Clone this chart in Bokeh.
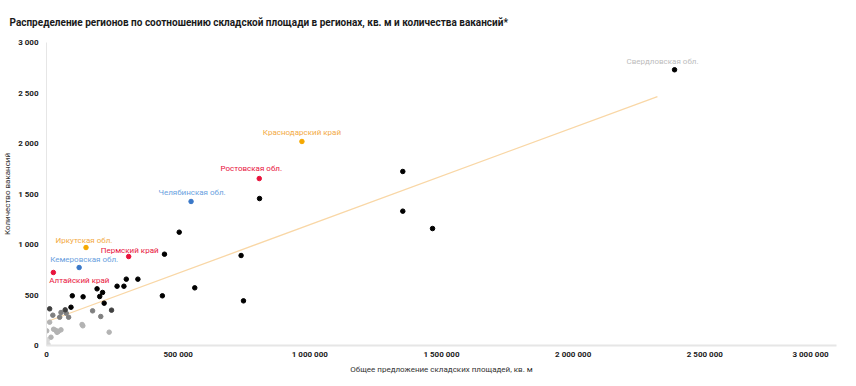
from bokeh.plotting import figure
from bokeh.models import Range1d, FixedTicker, ColumnDataSource
from bokeh.core.properties import value
from bokeh.embed import file_html
from bokeh.resources import INLINE

# ---- data ----
title_text = "Распределение регионов по соотношению складской площади в регионах, кв. м и количества вакансий*"
x_title = "Общее предложение складских площадей, кв. м"
y_title = "Количество вакансий"

x_ticks = [0, 500000, 1000000, 1500000, 2000000, 2500000, 3000000]
x_tick_labels = ["0", "500 000", "1 000 000", "1 500 000", "2 000 000", "2 500 000", "3 000 000"]
y_ticks = [0, 500, 1000, 1500, 2000, 2500, 3000]
y_tick_labels = ["0", "500", "1 000", "1 500", "2 000", "2 500", "3 000"]

# labelled regions
reg_names = ["Свердловская обл.", "Краснодарский край", "Ростовская обл.", "Челябинская обл.",
             "Иркутская обл.", "Пермский край", "Кемеровская обл.", "Алтайский край"]
reg_x = [2385000, 970000, 808000, 549000, 150000, 312000, 124000, 26000]
reg_y = [2730, 2020, 1653, 1426, 970, 881, 772, 723]

# other regions (black)
blk_x = [504000, 809000, 1353000, 1353000, 1466000, 448000, 739000, 303000, 347000, 268000,
         294000, 563000, 192000, 213000, 202000, 98000, 139000, 440000, 219000, 748000, 93000]
blk_y = [1122, 1455, 1723, 1330, 1158, 904, 891, 657, 657, 587,
         587, 571, 561, 525, 485, 492, 482, 492, 419, 442, 379]
# dark grey
dg_x = [12000, 71000, 247000]
dg_y = [363, 353, 350]
# mid grey
mg_x = [175000, 55000, 75000, 24000, 84000, 50000, 206000]
mg_y = [343, 327, 320, 300, 280, 280, 287]
# light grey
lg_x = [12000, 135000, 138000, 238000, 27000, 35000, 45000, 55000, 40000, 1000, 17000]
lg_y = [231, 208, 195, 132, 161, 150, 140, 155, 130, 145, 82]
# lightest grey
vl_x = [4000, 6000]
vl_y = [56, 10]

# trend line
trend_x = [0, 2320000]
trend_y = [235, 2465]

# ---- styles ----
reg_point_colors = ["#000000", "#f5a800", "#e8133c", "#3a78c8", "#f5a800", "#e8133c", "#3a78c8", "#e8133c"]
reg_label_colors = ["#bdbdbd", "#f3aa45", "#e8133c", "#6a9fe0", "#f3aa45", "#e8133c", "#6a9fe0", "#e8133c"]
reg_dx = [-12, 0, -8, 1, -2, 1, 5, 26]
reg_dy = [-8, -9, -10, -9, -7, -6, -8, 8]

FONT = "Roboto"
NBSP = "\u00a0"
FW, FH = 798, 303
BL, BR, BT, BB = 38, 4, 42, 33

p = figure(width=BL + FW + BR, height=BT + FH + BB, output_backend="svg", toolbar_location=None,
           x_range=Range1d(0, 3000000), y_range=Range1d(0, 3000),
           min_border_left=BL, min_border_right=BR, min_border_top=BT, min_border_bottom=BB)
p.outline_line_color = None
p.grid.visible = False
p.background_fill_color = "white"
p.border_fill_color = "white"

p.title.text = title_text
p.title.text_font = FONT
p.title.text_font_size = "10px"
p.title.text_font_style = "bold"
p.title.text_color = "#1a1a1a"
p.title.align = "left"
p.title.vertical_align = "top"
p.title.text_baseline = "top"
p.title.offset = -(BL - 1)
p.title.standoff = 26

# axes
for ax in (p.xaxis[0], p.yaxis[0]):
    ax.major_tick_line_color = None
    ax.minor_tick_line_color = None
    ax.major_tick_out = 0
    ax.major_tick_in = 0
    ax.major_label_text_font = FONT
    ax.major_label_text_font_size = "8px"
    ax.major_label_text_font_style = "bold"
    ax.major_label_text_color = "#1a1a1a"
    ax.axis_label_text_font = FONT
    ax.axis_label_text_font_size = "8px"
    ax.axis_label_text_font_style = "normal"
    ax.axis_label_text_color = "#333333"

p.xaxis.ticker = FixedTicker(ticks=x_ticks)
ov = {t: l for t, l in zip(x_ticks, x_tick_labels)}
# last label shifted left so that it stays inside the chart
ov[x_ticks[-1]] = x_tick_labels[-1] + NBSP * 6
p.xaxis.major_label_overrides = ov
p.xaxis.axis_label = x_title
p.xaxis.axis_line_color = "#e6e6e6"
p.xaxis.axis_line_width = 2
p.xaxis.major_label_standoff = 4
p.xaxis.axis_label_standoff = 3

p.yaxis.ticker = FixedTicker(ticks=y_ticks)
p.yaxis.major_label_overrides = {t: l for t, l in zip(y_ticks, y_tick_labels)}
p.yaxis.axis_label = y_title
p.yaxis.axis_line_color = "#e6e6e6"
p.yaxis.axis_line_width = 1
p.yaxis.major_label_standoff = 8
p.yaxis.axis_label_standoff = 3

# trend
p.line(trend_x, trend_y, line_color="#f9d7a6", line_width=1.3)

# points
S = 4.5
p.scatter(vl_x, vl_y, size=S, color="#d9d9d9")
p.scatter(lg_x, lg_y, size=S, color="#b3b3b3")
p.scatter(mg_x, mg_y, size=S, color="#808080")
p.scatter(dg_x, dg_y, size=S, color="#404040")
p.scatter(blk_x, blk_y, size=S, color="#000000")

src = ColumnDataSource(dict(x=reg_x, y=reg_y, name=reg_names, pc=reg_point_colors,
                            lc=reg_label_colors, dx=reg_dx, dy=reg_dy))
p.scatter("x", "y", source=src, size=S, color="pc")
p.text("x", "y", text="name", source=src, x_offset="dx", y_offset="dy",
       text_align="center", text_baseline="middle", text_color="lc",
       text_font=value(FONT), text_font_size="8px")

open("out.html", "w").write(file_html(p, INLINE))
